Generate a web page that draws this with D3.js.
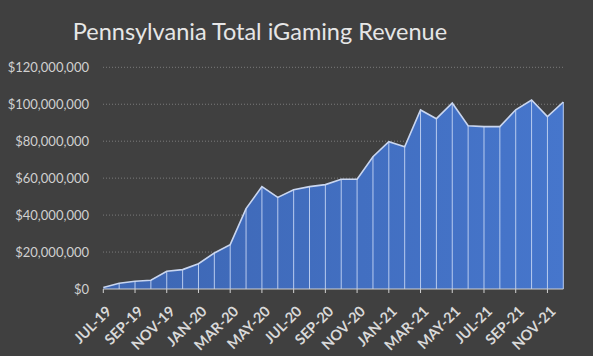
<!DOCTYPE html>
<html><head><meta charset="utf-8">
<script src="https://cdn.jsdelivr.net/npm/d3@7"></script>
<style>html,body{margin:0;padding:0;background:#404040;}svg{display:block;}</style>
</head><body><svg id="c" width="593" height="356"></svg>
<script>
const months = ["JUL-19","AUG-19","SEP-19","OCT-19","NOV-19","DEC-19","JAN-20","FEB-20","MAR-20","APR-20","MAY-20","JUN-20","JUL-20","AUG-20","SEP-20","OCT-20","NOV-20","DEC-20","JAN-21","FEB-21","MAR-21","APR-21","MAY-21","JUN-21","JUL-21","AUG-21","SEP-21","OCT-21","NOV-21","DEC-21"];
const revenue = [800000,3100000,4200000,4700000,9600000,10500000,13700000,19500000,24000000,43500000,55400000,49600000,53700000,55400000,56500000,59400000,59400000,71600000,79700000,77000000,96900000,92200000,100700000,88400000,87900000,87900000,97000000,102300000,93300000,101200000];
const yTicks = [0,20000000,40000000,60000000,80000000,100000000,120000000];
const title = "Pennsylvania Total iGaming Revenue";

const svg = d3.select("#c");
const font = "Lato, 'Open Sans', sans-serif";
const x = d3.scaleLinear().domain([0, months.length-1]).range([103.3, 563.3]);
const y = d3.scaleLinear().domain([0,120000000]).range([289, 67.3]);

svg.append("text").attr("x",260).attr("y",40).attr("text-anchor","middle")
  .attr("font-family",font).attr("font-size",23.5).attr("fill","#e6e6e6").text(title);

// gridlines
svg.append("g").selectAll("line").data(yTicks.filter(d=>d>0)).join("line")
  .attr("x1",103).attr("x2",565).attr("y1",d=>y(d)).attr("y2",d=>y(d))
  .attr("stroke","#8a8a8a").attr("stroke-width",0.8).attr("stroke-dasharray","1,2");

// y labels
const yAxis = d3.axisLeft(y).tickValues(yTicks).tickSize(0).tickPadding(0)
  .tickFormat(d=>"$"+d3.format(",")(d));
const ya = svg.append("g").attr("transform","translate(89,0)").call(yAxis);
ya.select(".domain").remove();
ya.selectAll("text").attr("font-family",font).attr("font-size",13).attr("fill","#d0d0d0");

const idx = d3.range(months.length);
const area = d3.area().x(i=>x(i)).y0(y(0)).y1(i=>y(revenue[i]));
const grad = svg.append("defs").append("linearGradient").attr("id","g1")
  .attr("x1","0").attr("y1","0").attr("x2","1").attr("y2","0");
grad.append("stop").attr("offset","0").attr("stop-color","#3d66b3");
grad.append("stop").attr("offset","1").attr("stop-color","#4676cc");
svg.append("path").datum(idx).attr("d",area).attr("fill","url(#g1)");

// drop lines
svg.append("g").selectAll("line").data(idx.slice(1)).join("line")
  .attr("x1",i=>x(i)).attr("x2",i=>x(i)).attr("y1",i=>y(revenue[i])).attr("y2",y(0))
  .attr("stroke","#b8cbef").attr("stroke-width",1);

svg.append("path").datum(idx).attr("d",d3.line().x(i=>x(i)).y(i=>y(revenue[i])))
  .attr("fill","none").attr("stroke","#c9d6f0").attr("stroke-width",1.6);

// x axis
const xa = svg.append("g").attr("transform",`translate(0,${y(0)})`);
xa.append("line").attr("x1",x(0)).attr("x2",x(months.length-1)).attr("stroke","#d0d0d0").attr("stroke-width",1);
xa.selectAll("line.t").data(idx.filter(i=>i%2===0)).join("line").attr("class","t")
  .attr("x1",i=>x(i)).attr("x2",i=>x(i)).attr("y1",0).attr("y2",4).attr("stroke","#d0d0d0");
xa.selectAll("text").data(idx.filter(i=>i%2===0)).join("text")
  .attr("transform",i=>`translate(${x(i)+2},16) rotate(-45)`)
  .attr("text-anchor","end").attr("dy","0.7em")
  .attr("font-family",font).attr("font-weight","bold").attr("font-size",14.5).attr("fill","#d9d9d9")
  .text(i=>months[i]);
</script></body></html>
